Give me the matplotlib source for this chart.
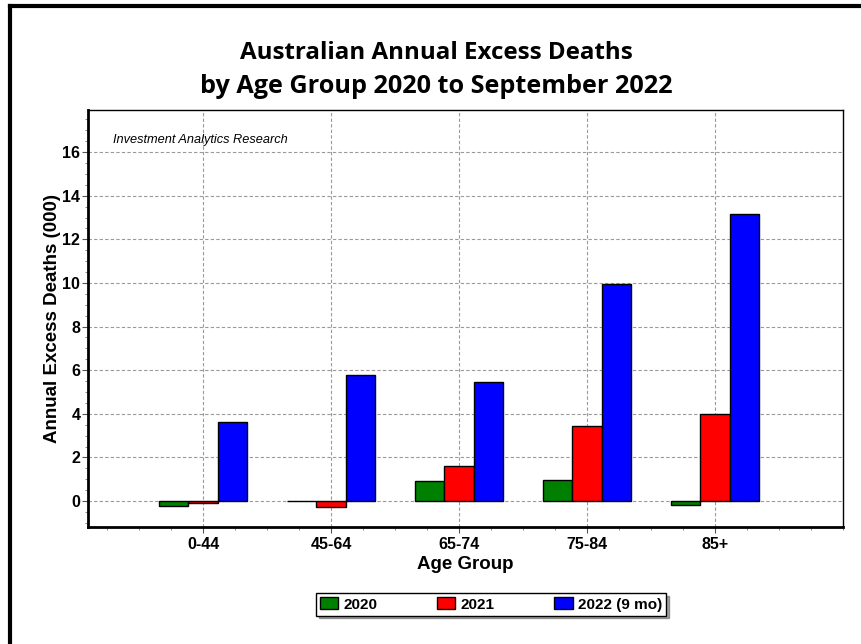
import numpy as np
import matplotlib
matplotlib.use('Agg')
import matplotlib.pyplot as plt
from matplotlib.lines import Line2D
from matplotlib.ticker import MultipleLocator

# Datos (miles de muertes en exceso)
age_groups = ['0-44', '45-64', '65-74', '75-84', '85+']
excess_2020 = [-0.23, 0.01, 0.92, 0.95, -0.18]
excess_2021 = [-0.10, -0.28, 1.59, 3.43, 3.98]
excess_2022 = [3.61, 5.77, 5.45, 9.97, 13.14]
series_names = ['2020', '2021', '2022 (9 mo)']

plt.rcParams['font.family'] = ['Liberation Sans', 'DejaVu Sans']

W, H = 862, 644
fig = plt.figure(figsize=(W / 100, H / 100), dpi=100)
ax = fig.add_axes([88/W, 1 - 527/H, (843 - 88)/W, (527 - 110)/H])

x = np.arange(len(age_groups))
w = 0.23
colores = ['#008000', '#ff0000', '#0000ff']
for i, (vals, col, name) in enumerate(zip([excess_2020, excess_2021, excess_2022],
                                          colores, series_names)):
    ax.bar(x + (i - 1) * w, vals, width=w, color=col, edgecolor='black',
           linewidth=1.0, label=name, zorder=3)

ax.set_xlim(-0.9, 5.0)
ax.set_ylim(-1.19, 17.93)
ax.set_xticks(x)
ax.set_xticklabels(age_groups, fontsize=11.5, fontweight='bold')
ax.xaxis.set_minor_locator(MultipleLocator(0.25))
ax.set_yticks(np.arange(0, 17, 2))
ax.yaxis.set_minor_locator(MultipleLocator(0.5))
for lab in ax.get_yticklabels():
    lab.set_fontweight('bold')
    lab.set_fontsize(11.5)

ax.tick_params(axis='x', which='major', direction='out', length=4, color='#555555', pad=3)
ax.tick_params(axis='y', which='major', direction='out', length=4, color='#555555', pad=1.5)
ax.tick_params(axis='both', which='minor', direction='out', length=2.5, color='#777777')
ax.grid(True, which='major', linestyle=(0, (3, 2)), color='#999999', linewidth=0.8, zorder=0)
ax.set_axisbelow(True)

for s in ['left', 'bottom']:
    ax.spines[s].set_linewidth(2)
for s in ['top', 'right']:
    ax.spines[s].set_linewidth(1)

ax.set_xlabel('Age Group', fontsize=13.5, fontweight='bold', labelpad=3)
ax.set_ylabel('Annual Excess Deaths (000)', fontsize=13.5, fontweight='bold', labelpad=1)

fig.text(113/W, 1 - 140/H, 'Investment Analytics Research',
         fontsize=9.2, style='italic', va='center', ha='left')

# Titulo en dos lineas, ajustado al ancho de la referencia
titulos = [('Australian Annual Excess Deaths', 59.3, 393),
           ('by Age Group 2020 to September 2022', 93.3, 474)]
renderer = fig.canvas.get_renderer()
for txt, base_y, ancho in titulos:
    t = fig.text(436.5/W, 1 - base_y/H, txt, ha='center', va='baseline',
                 fontsize=16, fontweight='bold', family=['Open Sans', 'DejaVu Sans'])
    ext = t.get_window_extent(renderer=renderer)
    t.set_fontsize(16 * ancho / ext.width)

leg = fig.legend(loc='center', bbox_to_anchor=(491/W, 1 - 604.5/H), ncol=3,
                 frameon=True, fancybox=False, shadow=True, prop={'weight': 'bold', 'size': 11},
                 handlelength=1.2, handleheight=0.85, columnspacing=3.9, borderpad=0.25,
                 handletextpad=0.35)
leg.get_frame().set_edgecolor('black')
leg.get_frame().set_linewidth(1.0)

# Marco exterior (solo izquierda y arriba visibles)
fig.add_artist(Line2D([10/W, 10/W], [0, 1 - 5.5/H], transform=fig.transFigure,
                      color='black', linewidth=3))
fig.add_artist(Line2D([10/W, 1], [1 - 5.5/H, 1 - 5.5/H], transform=fig.transFigure,
                      color='black', linewidth=3))

fig.savefig('out.png', dpi=100)
